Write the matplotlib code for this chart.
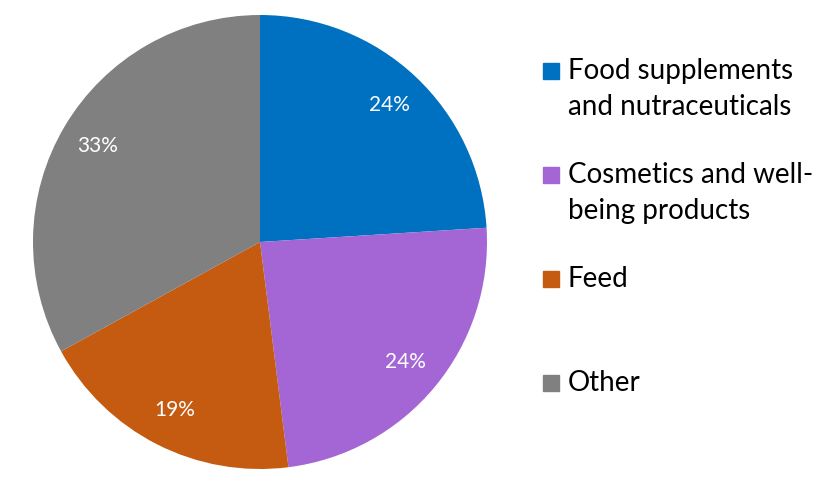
import matplotlib.pyplot as plt
from matplotlib.patches import Rectangle

# data
labels = ["Food supplements\nand nutraceuticals", "Cosmetics and well-\nbeing products", "Feed", "Other"]
shares = [24, 24, 19, 33]
colors = ["#0070C0", "#A366D4", "#C55A11", "#808080"]

plt.rcParams['font.family'] = ['Lato', 'DejaVu Sans']

fig = plt.figure(figsize=(8.39, 4.88), dpi=100)
W, H = 839, 488

# pie axes: center (260,242), radius ~227 px
R = 227
cx, cy = 260, 242
ax = fig.add_axes([(cx - R) / W, 1 - (cy + R) / H, 2 * R / W, 2 * R / H])
wedges, texts, autotexts = ax.pie(
    shares, colors=colors, startangle=90, counterclock=False,
    autopct=lambda p: f"{p:.0f}%", pctdistance=0.83, radius=1.0,
    textprops=dict(color="white", fontsize=15))
ax.set_xlim(-1, 1)
ax.set_ylim(-1, 1)
ax.set_aspect('equal')

# legend, laid out by hand (uneven spacing in original)
marker_y = [71, 175, 279, 383]
line_step = 36
for lab, col, y in zip(labels, colors, marker_y):
    fig.patches.append(Rectangle((543 / W, 1 - (y + 8) / H), 16 / W, 16 / H,
                                 transform=fig.transFigure, color=col))
    for i, line in enumerate(lab.split("\n")):
        base = y + 8 + i * line_step
        fig.text(568 / W, 1 - base / H, line, fontsize=20, va='baseline',
                 ha='left', color='black')

fig.savefig("out.png", dpi=100)
